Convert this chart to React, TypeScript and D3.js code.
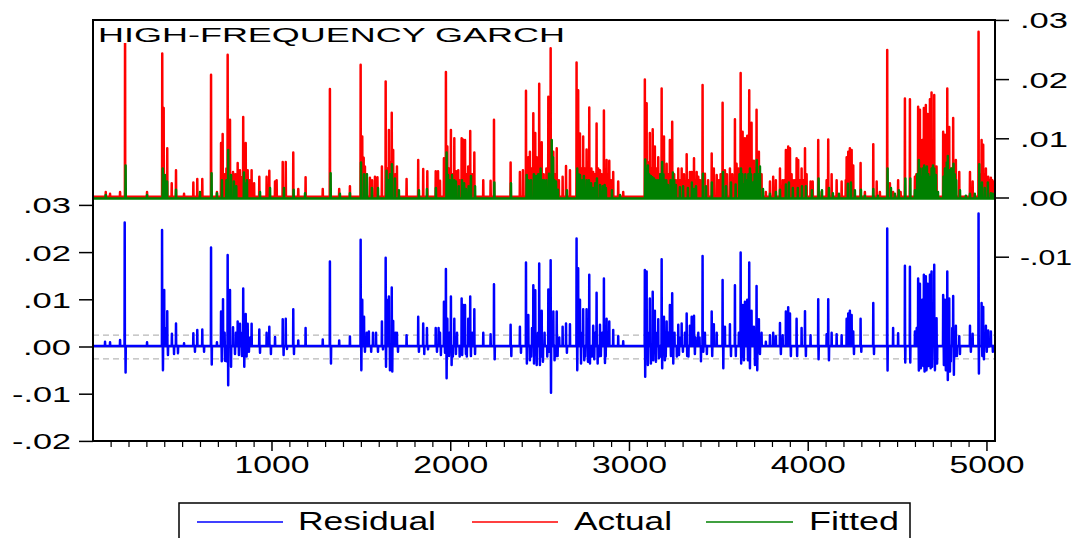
import React from "react";
import * as d3 from "d3";

// ---------------- data ----------------
const TITLE = "HIGH-FREQUENCY GARCH";
const N_OBS = 5045;
const xMajorTicks = [1000, 2000, 3000, 4000, 5000];
const leftTicks = [0.03, 0.02, 0.01, 0.0, -0.01, -0.02];
const leftTickLabels = [".03", ".02", ".01", ".00", "-.01", "-.02"];
const rightTicks = [0.03, 0.02, 0.01, 0.0, -0.01];
const rightTickLabels = [".03", ".02", ".01", ".00", "-.01"];
const legendLabels = ["Residual", "Actual", "Fitted"];
const residualBand = 0.0025;

// quiet levels of each series between spikes
const actualBase = 0.0002;
const fittedBase = -0.0001;
const residualBase = 0.0002;

// [observation, value] main peaks of the Actual series
const actualPeaks: [number, number][] = [
  [70,0.001],[94,0.0007],[150,0.001],[178,0.033],[301,0.001],[386,0.0244],[394,0.0152],[414,0.0084],[439,0.0025],[463,0.0047],[508,0.0007],[560,0.0026],[582,0.0032],[610,0.0032],[659,0.0208],[692,0.001],[715,0.0093],[724,0.0108],[752,0.0242],[765,0.0132],[782,0.0044],[808,0.0059],[821,0.0047],[839,0.0137],[853,0.0093],[864,0.0047],[886,0.0047],[929,0.0036],[970,0.0036],[985,0.0046],[1017,0.0028],[1026,0.003],[1060,0.0061],[1077,0.0061],[1119,0.0077],[1147,0.0015],[1188,0.0035],[1284,0.0015],[1324,0.0184],[1376,0.0015],[1436,0.002],
  [1496,0.0225],[1505,0.0104],[1513,0.0068],[1520,0.0053],[1548,0.0034],[1576,0.0036],[1615,0.0053],[1636,0.0197],[1654,0.0115],[1670,0.0144],[1678,0.0081],[1699,0.0053],[1753,0.0032],[1818,0.0064],[1846,0.0049],[1869,0.0045],[1916,0.0045],[1929,0.0045],[1940,0.0029],[1962,0.0067],[1973,0.0213],[1981,0.0087],[2001,0.0115],[2020,0.0101],[2042,0.0047],[2061,0.0101],[2068,0.0099],[2080,0.0098],[2098,0.0053],[2109,0.0113],[2132,0.0077],[2182,0.003],[2223,0.0029],[2242,0.0132],[2335,0.006],[2387,0.0044],[2404,0.0047],[2421,0.0181],[2434,0.0069],[2443,0.0078],[2462,0.0143],[2473,0.011],[2481,0.0069],[2495,0.0193],[2509,0.0094],[2546,0.0171],[2559,0.0253],[2574,0.0078],[2593,0.0084],[2626,0.0036],[2645,0.0054],[2667,0.0047],[2704,0.0229],[2713,0.0182],[2723,0.0109],[2741,0.0104],[2760,0.0082],[2775,0.0153],[2797,0.0044],[2816,0.0126],[2835,0.0047],[2857,0.0148],[2872,0.0064],[2887,0.0063],[2909,0.0044],[2937,0.0028],[2965,0.001],
  [3086,0.02],[3096,0.016],[3114,0.011],[3130,0.0116],[3142,0.0087],[3161,0.0069],[3180,0.0185],[3193,0.0104],[3208,0.0058],[3226,0.0098],[3239,0.0129],[3273,0.005],[3292,0.005],[3320,0.0074],[3338,0.0044],[3348,0.0044],[3361,0.0067],[3376,0.0044],[3385,0.0036],[3409,0.0191],[3422,0.0041],[3460,0.0075],[3472,0.005],[3488,0.0039],[3521,0.0161],[3534,0.0047],[3562,0.005],[3590,0.0133],[3599,0.0058],[3622,0.0211],[3633,0.0112],[3646,0.0101],[3659,0.0105],[3670,0.0182],[3683,0.0127],[3696,0.0063],[3711,0.0149],[3724,0.0078],[3739,0.004],[3763,0.001],[3786,0.0028],[3804,0.0036],[3819,0.003],[3842,0.005],[3857,0.003],[3875,0.0081],[3888,0.0087],[3898,0.0084],[3907,0.004],[3935,0.0067],[3944,0.0064],[3963,0.005],[3982,0.0084],[3991,0.004],[4013,0.0028],[4025,0.0028],[4056,0.0098],[4075,0.001],[4103,0.003],[4112,0.0099],[4131,0.004],[4159,0.003],[4187,0.0028],[4215,0.0069],[4224,0.0078],[4233,0.0084],[4243,0.0081],[4252,0.0055],[4293,0.0059],[4317,0.001],[4364,0.0091],[4383,0.0028],[4401,0.001],[4442,0.025],[4457,0.0025],[4475,0.001],[4503,0.003],[4517,0.001],[4541,0.0168],[4569,0.0167],[4597,0.0036],[4615,0.0154],[4625,0.0149],[4638,0.0098],[4647,0.0152],[4658,0.0157],[4668,0.0142],[4681,0.0167],[4690,0.0178],[4705,0.0174],[4718,0.0053],[4755,0.0112],[4765,0.0107],[4778,0.0185],[4789,0.012],[4811,0.0135],[4826,0.0064],[4845,0.0044],[4905,0.0044],[4920,0.0028],[4953,0.0281],[4970,0.0098],[4979,0.009],[4994,0.005],[5007,0.0036],[5022,0.0034],[5035,0.0028]
];

// [observation, value] smaller peaks filling the Actual clusters
const actualMinorPeaks: [number, number][] = [
  [735,0.004],[745,0.005],[795,0.004],[830,0.0035],[845,0.005],[875,0.003],[900,0.0025],
  [1530,0.004],[1560,0.003],[1590,0.0035],[1645,0.005],[1662,0.006],[1690,0.004],
  [1990,0.005],[2010,0.004],[2030,0.0045],[2050,0.003],[2075,0.005],[2090,0.004],[2120,0.004],
  [2428,0.004],[2452,0.005],[2488,0.005],[2500,0.006],[2520,0.004],[2535,0.005],[2565,0.005],[2583,0.004],[2605,0.003],
  [2732,0.005],[2750,0.005],[2768,0.004],[2787,0.005],[2806,0.004],[2825,0.005],[2845,0.004],[2865,0.004],[2880,0.004],[2897,0.003],
  [3105,0.006],[3122,0.005],[3150,0.005],[3170,0.004],[3186,0.006],[3200,0.004],[3217,0.004],[3232,0.005],[3250,0.004],[3260,0.003],[3283,0.003],[3305,0.004],[3330,0.003],[3368,0.003],[3395,0.003],
  [3440,0.003],[3500,0.003],[3510,0.004],[3545,0.004],[3575,0.004],[3610,0.005],[3628,0.006],[3640,0.005],[3652,0.006],[3665,0.006],[3677,0.006],[3690,0.005],[3703,0.005],[3717,0.005],[3730,0.004],
  [3865,0.003],[3880,0.004],[3915,0.003],[3925,0.003],[3953,0.003],[3972,0.003],
  [4210,0.003],[4228,0.005],[4238,0.005],[4248,0.004],
  [4605,0.004],[4620,0.006],[4632,0.006],[4642,0.005],[4652,0.006],[4663,0.006],[4675,0.005],[4685,0.006],[4697,0.006],[4710,0.005],
  [4760,0.005],[4772,0.005],[4784,0.006],[4795,0.005],[4805,0.005],[4818,0.004],
  [4960,0.004],[4985,0.004],[5000,0.003],[5015,0.003],[5030,0.003]
];

// [observation, value] peaks of the Fitted series
const fittedPeaks: [number, number][] = [
  [70,0.0005],[181,0.0055],[301,0.0005],[389,0.005],[401,0.0039],[413,0.0028],[463,0.0014],[597,0.001],[662,0.0042],[692,0.0008],[720,0.003],[755,0.0081],[771,0.0039],[787,0.0028],[843,0.0043],[860,0.003],[933,0.001],[989,0.0017],[1067,0.0017],[1121,0.0014],[1185,0.0008],[1328,0.0042],[1380,0.0007],[1436,0.0008],
  [1498,0.006],[1515,0.004],[1531,0.004],[1559,0.0017],[1593,0.0017],[1641,0.0046],[1671,0.0057],[1688,0.0033],[1710,0.0013],[1822,0.0013],[1867,0.0015],[1917,0.0017],[1977,0.0077],[1985,0.0039],[2007,0.0039],[2029,0.0028],[2063,0.003],[2085,0.0015],[2113,0.0037],[2136,0.002],[2244,0.0026],[2337,0.0025],[2425,0.0039],[2449,0.003],[2477,0.0037],[2503,0.005],[2522,0.003],[2550,0.0041],[2565,0.0098],[2572,0.0069],[2589,0.0028],[2600,0.0014],[2650,0.0013],[2708,0.005],[2723,0.0039],[2745,0.0037],[2773,0.003],[2796,0.0017],[2818,0.0033],[2835,0.0022],[2861,0.0022],[2868,0.0017],[2902,0.0013],[2947,0.0005],
  [3088,0.0065],[3103,0.0055],[3120,0.0037],[3137,0.0033],[3148,0.003],[3183,0.0061],[3198,0.003],[3215,0.0022],[3243,0.0043],[3260,0.0022],[3282,0.0018],[3327,0.0017],[3349,0.0026],[3361,0.0015],[3372,0.002],[3411,0.0041],[3428,0.002],[3461,0.0026],[3523,0.0044],[3540,0.002],[3568,0.0026],[3594,0.0023],[3624,0.005],[3640,0.0023],[3657,0.003],[3674,0.005],[3691,0.0026],[3712,0.0064],[3730,0.0053],[3747,0.0015],[3786,0.0007],[3819,0.001],[3842,0.0014],[3875,0.0023],[3892,0.0026],[3914,0.0017],[3942,0.0017],[3965,0.002],[3987,0.002],[4021,0.0013],[4058,0.0033],[4077,0.0013],[4116,0.0017],[4138,0.0008],[4172,0.0007],[4222,0.0024],[4239,0.0026],[4261,0.0013],[4295,0.0014],[4317,0.0004],[4364,0.0015],[4390,0.0004],[4444,0.005],[4463,0.0017],[4485,0.0007],[4507,0.0013],[4543,0.0033],[4571,0.0033],[4597,0.0013],[4619,0.0064],[4630,0.0036],[4649,0.0055],[4664,0.0053],[4683,0.0036],[4698,0.0055],[4714,0.0039],[4726,0.001],[4757,0.0036],[4770,0.0047],[4781,0.0071],[4793,0.0047],[4813,0.0058],[4828,0.003],[4849,0.0013],[4882,0.0004],[4905,0.0007],[4932,0.0007],[4957,0.0057],[4972,0.0026],[4988,0.0017],[5005,0.0026],[5022,0.0008],[5033,0.0007]
];

// [observation, value] smaller peaks filling the Fitted clusters
const fittedMinorPeaks: [number, number][] = [
  [745,0.003],[800,0.002],[850,0.0025],[1650,0.003],[1660,0.004],[1995,0.003],[2020,0.003],[2045,0.002],[2075,0.0025],[2100,0.002],
  [2435,0.003],[2465,0.004],[2490,0.004],[2512,0.003],[2535,0.003],[2580,0.003],[2715,0.004],[2735,0.003],[2760,0.003],[2785,0.0025],[2808,0.0025],[2850,0.002],
  [3095,0.005],[3110,0.004],[3128,0.0035],[3160,0.003],[3173,0.004],[3190,0.004],[3206,0.003],[3230,0.003],[3250,0.003],[3300,0.002],
  [3615,0.004],[3632,0.004],[3648,0.004],[3665,0.004],[3680,0.004],[3700,0.004],[3720,0.004],
  [4610,0.004],[4625,0.005],[4640,0.005],[4656,0.005],[4672,0.004],[4690,0.005],[4705,0.005],[4765,0.005],[4775,0.006],[4800,0.005],[4820,0.004]
];

// [observation, value] peaks and troughs of the Residual series
const residualPeaks: [number, number][] = [
  [66,0.0011],[94,0.001],[150,0.0015],[176,0.0264],[181,-0.0054],[301,0.001],[385,0.0248],[390,-0.0049],[397,0.0121],[401,0.004],[414,0.0076],[418,-0.0017],[440,0.0028],[452,-0.0015],[463,0.005],[474,-0.0013],[508,0.0008],[560,0.0029],[569,-0.001],[582,0.0036],[610,0.0037],[620,-0.001],[659,0.0211],[663,-0.0037],[692,0.001],[715,0.0075],[719,-0.003],[726,0.0101],[737,-0.0029],[752,0.0195],[755,-0.0081],[765,0.0121],[771,-0.0042],[782,0.0042],[793,-0.0015],[808,0.0054],[815,-0.0017],[821,0.0049],[832,-0.0019],[839,0.0124],[845,-0.0042],[853,0.007],[864,0.0049],[871,-0.001],[886,0.0049],[929,0.0037],[933,-0.0012],[970,0.003],[985,0.0043],[994,-0.0015],[1017,0.0021],[1060,0.0059],[1065,-0.0017],[1077,0.006],[1084,-0.0004],[1119,0.008],[1123,-0.0015],[1147,0.0014],[1188,0.004],[1284,0.0016],[1324,0.0181],[1330,-0.0035],[1376,0.0014],[1436,0.0022],
  [1496,0.0227],[1500,-0.0049],[1505,0.01],[1515,0.0064],[1520,-0.001],[1542,0.0033],[1565,0.003],[1582,0.003],[1593,-0.001],[1615,0.0054],[1621,-0.0005],[1636,0.0189],[1638,-0.0042],[1649,0.01],[1654,0.0107],[1660,-0.0049],[1670,0.0126],[1673,-0.0052],[1678,0.0055],[1699,0.003],[1705,-0.001],[1753,0.0025],[1818,0.0064],[1822,-0.001],[1846,0.005],[1852,-0.0015],[1867,0.004],[1873,-0.0005],[1916,0.004],[1923,-0.001],[1932,0.004],[1940,0.003],[1945,-0.0017],[1962,0.0096],[1968,-0.0012],[1973,0.0165],[1977,-0.0066],[1981,0.006],[1990,-0.0019],[2001,0.0107],[2005,-0.0038],[2020,0.006],[2029,-0.0015],[2061,0.0103],[2064,-0.0017],[2070,0.0089],[2080,0.0089],[2085,-0.0015],[2098,0.006],[2109,0.0107],[2113,-0.0019],[2132,0.008],[2136,-0.0015],[2182,0.003],[2223,0.0027],[2242,0.0133],[2246,-0.0026],[2335,0.0047],[2339,-0.0019],[2387,0.0043],[2393,-0.0012],[2421,0.0179],[2426,-0.0035],[2434,0.0068],[2443,-0.0028],[2462,0.0131],[2466,-0.0035],[2473,0.012],[2481,-0.0038],[2495,0.0177],[2499,-0.0038],[2509,0.0077],[2516,-0.0031],[2546,0.0122],[2551,-0.001],[2559,0.0184],[2561,-0.0097],[2574,0.0075],[2581,-0.0028],[2593,0.0075],[2598,-0.0019],[2626,0.0043],[2645,0.005],[2650,-0.0012],[2667,0.0048],[2704,0.023],[2708,-0.0049],[2713,0.0167],[2723,0.01],[2729,-0.0035],[2741,0.008],[2747,-0.0028],[2760,0.008],[2768,-0.0031],[2775,0.0153],[2779,-0.0035],[2797,0.0045],[2803,-0.0026],[2816,0.0115],[2822,-0.0035],[2835,0.0047],[2840,-0.0019],[2857,0.0145],[2863,-0.0034],[2872,0.006],[2887,0.0054],[2909,0.0036],[2937,0.0023],[2965,0.0012],
  [3086,0.0163],[3088,-0.0063],[3096,0.016],[3103,-0.0038],[3114,0.0103],[3120,-0.0035],[3130,0.0117],[3133,-0.0028],[3142,0.0077],[3148,-0.0031],[3161,0.0059],[3165,-0.0024],[3180,0.0186],[3183,-0.0045],[3193,0.0064],[3198,-0.0028],[3208,0.0054],[3226,0.0089],[3232,-0.0019],[3239,0.0114],[3245,-0.0035],[3273,0.0047],[3277,-0.0017],[3292,0.005],[3299,-0.001],[3320,0.0071],[3323,-0.0019],[3338,0.0045],[3348,0.0064],[3361,0.0066],[3366,-0.0015],[3385,0.003],[3400,-0.003],[3409,0.0193],[3413,-0.001],[3422,0.003],[3433,-0.0015],[3460,0.0075],[3463,-0.0019],[3472,0.0048],[3488,0.003],[3521,0.0142],[3525,-0.0045],[3534,0.0043],[3562,0.0048],[3568,-0.0019],[3590,0.0131],[3595,-0.0019],[3622,0.02],[3625,-0.0035],[3633,0.0089],[3640,-0.0028],[3646,0.0096],[3659,0.01],[3663,-0.0028],[3670,0.0179],[3674,-0.0045],[3683,0.0077],[3696,0.0043],[3702,-0.0038],[3711,0.0129],[3715,-0.0049],[3724,0.0059],[3730,-0.0015],[3739,0.003],[3763,0.0011],[3786,0.0025],[3804,0.003],[3819,0.0023],[3842,0.0051],[3847,-0.0015],[3857,0.0025],[3875,0.0075],[3888,0.0084],[3898,0.0071],[3903,-0.0019],[3935,0.006],[3938,-0.0019],[3963,0.004],[3982,0.0076],[3987,-0.0019],[4013,0.0025],[4056,0.0101],[4058,-0.0026],[4103,0.0027],[4112,0.0101],[4116,-0.0028],[4131,0.003],[4159,0.0027],[4187,0.0025],[4215,0.006],[4224,0.0071],[4233,0.0077],[4243,0.0068],[4252,0.0033],[4256,-0.0015],[4293,0.006],[4297,-0.001],[4364,0.0093],[4368,-0.0015],[4442,0.0251],[4444,-0.005],[4475,0.004],[4503,0.0029],[4541,0.0172],[4543,-0.0033],[4569,0.017],[4571,-0.0033],[4597,0.0033],[4615,0.0145],[4619,-0.005],[4625,0.0134],[4630,-0.0045],[4638,0.01],[4647,0.0153],[4651,-0.0052],[4658,0.015],[4662,-0.0049],[4668,0.0134],[4681,0.0153],[4685,-0.0045],[4690,0.016],[4693,-0.0042],[4705,0.0174],[4709,-0.0049],[4718,0.0061],[4721,-0.0035],[4755,0.011],[4759,-0.0038],[4765,0.01],[4770,-0.0049],[4778,0.016],[4781,-0.007],[4789,0.0103],[4793,-0.0052],[4811,0.0108],[4815,-0.0059],[4826,0.0045],[4832,-0.0019],[4845,0.0023],[4849,-0.0015],[4905,0.0045],[4910,-0.001],[4920,0.0028],[4953,0.0283],[4955,-0.0056],[4970,0.0093],[4974,-0.0019],[4979,0.0085],[4983,-0.0026],[4994,0.0045],[4999,-0.001],[5007,0.0035],[5011,0.0001],[5022,0.0033],[5033,-0.001]
];

// [observation, value] smaller swings filling the Residual clusters
const residualMinorPeaks: [number, number][] = [
  [735,0.003],[745,-0.003],[760,0.004],[798,0.003],[827,0.003],[858,-0.002],[878,0.002],
  [1530,0.003],[1555,-0.001],[1645,0.004],[1665,-0.003],[1690,0.003],
  [1992,0.003],[2012,-0.002],[2035,0.003],[2050,-0.002],[2075,0.003],[2090,-0.002],[2120,0.003],
  [2430,0.003],[2450,-0.002],[2455,0.004],[2488,0.003],[2505,-0.002],[2525,0.003],[2540,-0.002],[2567,0.003],[2586,-0.002],[2607,0.002],
  [2735,0.003],[2752,-0.002],[2770,0.003],[2790,-0.002],[2808,0.003],[2828,-0.002],[2848,0.003],[2867,-0.002],[2880,0.003],
  [3108,0.003],[3125,-0.002],[3155,0.003],[3172,-0.002],[3188,0.003],[3203,-0.002],[3218,0.003],[3252,0.003],[3265,-0.002],[3285,0.002],[3310,0.003],[3330,-0.002],[3370,0.002],[3392,0.002],
  [3612,0.003],[3628,-0.002],[3652,0.004],[3667,-0.002],[3688,0.004],[3705,-0.002],[3720,0.003],
  [4607,0.004],[4622,-0.003],[4634,0.005],[4644,-0.004],[4655,0.004],[4672,-0.004],[4677,0.004],[4698,0.004],[4712,-0.003],
  [4762,0.004],[4774,-0.003],[4786,0.004],[4798,-0.003],[4806,0.004],[4820,-0.002]
];

// ---------------- layout ----------------
const W = 1078;
const H = 538;
const L = 93;
const R = 995;
const T = 20;
const B = 441;
const FONT = "'Liberation Sans', Arial, sans-serif";

const x = d3.scaleLinear().domain([0, N_OBS]).range([93.25, R]);
const yRight = d3.scaleLinear().domain([0, 0.03]).range([198, 20.4]); // Actual / Fitted
const yLeft = d3.scaleLinear().domain([0, 0.03]).range([347, 205.4]); // Residual

const minorTicks = d3.range(100, 5001, 100).filter((v) => v % 1000 !== 0);

function spikePath(
  peaks: [number, number][],
  base: number,
  y: d3.ScaleLinear<number, number>
): string {
  const sorted = [...peaks].sort((a, b) => a[0] - b[0]);
  const pts: [number, number][] = [[1, base]];
  for (const [i, v] of sorted) {
    pts.push([i - 1, base], [i, v], [i + 1, base]);
  }
  pts.push([N_OBS, base]);
  const line = d3
    .line<[number, number]>()
    .x((d) => x(d[0]))
    .y((d) => y(d[1]));
  return line(pts) || "";
}

export default function App() {
  const actualD = spikePath(actualPeaks.concat(actualMinorPeaks), actualBase, yRight);
  const fittedD = spikePath(fittedPeaks.concat(fittedMinorPeaks), fittedBase, yRight);
  const residD = spikePath(residualPeaks.concat(residualMinorPeaks), residualBase, yLeft);

  const legendItems = [
    { label: legendLabels[0], color: "#0000ff", x1: 197, x2: 283, tx: 298, tw: 138 },
    { label: legendLabels[1], color: "#ff0000", x1: 472, x2: 558, tx: 574, tw: 98 },
    { label: legendLabels[2], color: "#008000", x1: 706, x2: 793, tx: 809, tw: 90 },
  ];

  return (
    <svg
      width={W}
      height={H}
      style={{ position: "absolute", left: 0, top: 0, background: "#fff" }}
      fontFamily={FONT}
    >
      <defs>
        <clipPath id="plot">
          <rect x={L} y={T} width={R - L} height={B - T} />
        </clipPath>
      </defs>
      <rect x={0} y={0} width={W} height={H} fill="#fff" />

      <g clipPath="url(#plot)">
        {/* residual reference lines */}
        <line x1={L} x2={R} y1={yLeft(0)} y2={yLeft(0)} stroke="#808080" strokeWidth={1.2} />
        <line x1={L} x2={R} y1={yLeft(residualBand)} y2={yLeft(residualBand)} stroke="#b8b8b8" strokeWidth={1.2} strokeDasharray="6,4" />
        <line x1={L} x2={R} y1={yLeft(-residualBand)} y2={yLeft(-residualBand)} stroke="#b8b8b8" strokeWidth={1.2} strokeDasharray="6,4" />

        <path d={actualD} fill="none" stroke="#ff0000" strokeWidth={2.5} strokeLinejoin="round" />
        <path d={fittedD} fill="none" stroke="#008000" strokeWidth={2.5} strokeLinejoin="round" />
        <path d={residD} fill="none" stroke="#0000ff" strokeWidth={2.5} strokeLinejoin="round" />
      </g>

      {/* title with white backing */}
      <rect x={95} y={21} width={474} height={22} fill="#fff" />
      <text
        x={98}
        y={41.5}
        fontSize={21}
        fill="#000"
        textLength={467}
        lengthAdjust="spacingAndGlyphs"
      >
        {TITLE}
      </text>

      {/* frame */}
      <rect x={L} y={T} width={R - L} height={B - T} fill="none" stroke="#000" strokeWidth={2} />

      {/* left axis */}
      {leftTicks.map((v, k) => (
        <g key={"l" + k}>
          <line x1={79} x2={L} y1={yLeft(v)} y2={yLeft(v)} stroke="#000" strokeWidth={1.5} />
          <text
            x={71}
            y={yLeft(v) + 8}
            fontSize={22}
            textAnchor="end"
            textLength={leftTickLabels[k].length > 3 ? 59 : 48}
            lengthAdjust="spacingAndGlyphs"
          >
            {leftTickLabels[k]}
          </text>
        </g>
      ))}

      {/* right axis */}
      {rightTicks.map((v, k) => (
        <g key={"r" + k}>
          <line x1={R} x2={1009} y1={yRight(v)} y2={yRight(v)} stroke="#000" strokeWidth={1.5} />
          <text
            x={1020}
            y={yRight(v) + 8}
            fontSize={22}
            textLength={rightTickLabels[k].length > 3 ? 52 : 48}
            lengthAdjust="spacingAndGlyphs"
          >
            {rightTickLabels[k]}
          </text>
        </g>
      ))}

      {/* x axis */}
      {minorTicks.map((v) => (
        <line key={"m" + v} x1={x(v)} x2={x(v)} y1={B} y2={B + 6} stroke="#000" strokeWidth={1.2} />
      ))}
      {xMajorTicks.map((v) => (
        <g key={"x" + v}>
          <line x1={x(v)} x2={x(v)} y1={B} y2={B + 10} stroke="#000" strokeWidth={1.5} />
          <text
            x={x(v) - 37.5}
            y={473}
            fontSize={23}
            textLength={75}
            lengthAdjust="spacingAndGlyphs"
          >
            {String(v)}
          </text>
        </g>
      ))}

      {/* legend */}
      <rect x={179} y={503} width={731} height={44} fill="#fff" stroke="#000" strokeWidth={1.5} />
      {legendItems.map((it) => (
        <g key={it.label}>
          <line x1={it.x1} x2={it.x2} y1={522} y2={522} stroke={it.color} strokeWidth={1.5} />
          <text
            x={it.tx}
            y={530}
            fontSize={26}
            textLength={it.tw}
            lengthAdjust="spacingAndGlyphs"
          >
            {it.label}
          </text>
        </g>
      ))}
    </svg>
  );
}
